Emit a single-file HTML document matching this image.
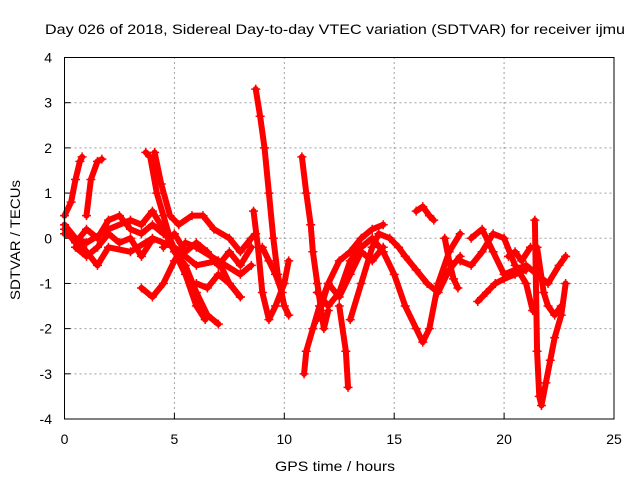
<!DOCTYPE html>
<html><head><meta charset="utf-8"><style>
body{margin:0;background:#fff;}
svg{display:block;font-family:"Liberation Sans",sans-serif;}
</style></head><body>
<svg id="chart" width="640" height="480" viewBox="0 0 640 480">
<text x="45" y="34" font-size="14" textLength="580" lengthAdjust="spacingAndGlyphs">Day 026 of 2018, Sidereal Day-to-day VTEC variation (SDTVAR) for receiver ijmu</text>
<text x="275" y="471" font-size="14" textLength="120" lengthAdjust="spacingAndGlyphs">GPS time / hours</text>
<text transform="translate(20,300) rotate(-90)" font-size="14" textLength="120" lengthAdjust="spacingAndGlyphs">SDTVAR / TECUs</text>
<g id="grid"></g><g id="ticks"></g><g id="series"></g>
<rect x="64.5" y="57.5" width="549.5" height="361.5" fill="none" stroke="#000" stroke-width="1"/>
</svg>
<script>
const xTicks=[0,5,10,15,20,25];
const yTicks=[-4,-3,-2,-1,0,1,2,3,4];
const t1=[[0,0.5],[0.3,0.8],[0.5,1.3],[0.7,1.7],[0.8,1.8]];
const t2=[[1.0,0.5],[1.2,1.3],[1.5,1.7],[1.7,1.75]];
const t3=[[0,0.1],[1,-0.1],[2,0.2],[3,0.4],[3.5,0.3],[4,0.6],[4.5,0.2],[5,-0.3],[5.5,-0.6],[6,-1.2],[6.5,-1.7],[7,-1.9]];
const t4=[[3.7,1.9],[3.9,1.8],[4.2,1.0],[4.5,0.5],[4.8,0.0],[5.2,-0.5],[5.5,-0.8],[6,-1.5],[6.4,-1.8]];
const t5=[[4.1,1.9],[4.4,1.2],[4.8,0.5],[5.2,0.3],[5.8,0.5],[6.3,0.5],[6.8,0.2],[7.5,0],[8,-0.3],[8.5,0.0],[8.7,0.1]];
const t6=[[3.5,-1.1],[4,-1.3],[4.5,-1.0],[5,-0.5],[5.5,-0.1],[6,-0.2],[7,-0.5],[7.5,-1.0],[8,-1.3]];
const t7=[[0,0.3],[1,-0.3],[1.5,-0.6],[2,-0.2],[3,-0.3],[4,0.0],[5,-0.2],[6,-0.6],[7,-0.5],[8,-0.8],[8.5,-0.6]];
const t8=[[8.7,3.3],[8.9,2.7],[9.1,2.0],[9.3,1.0],[9.5,0.0],[9.7,-0.8],[10,-1.5],[10.2,-1.7]];
const t9=[[8.6,0.6],[8.8,-0.2],[9,-1.2],[9.3,-1.8],[9.6,-1.5],[10,-1.0],[10.2,-0.5]];
const t10=[[10.8,1.8],[11,1.0],[11.2,0.3],[11.3,-0.3],[11.5,-1.0],[11.8,-2.0],[12,-1.6]];
const t11=[[10.9,-3.0],[11,-2.5],[11.3,-2.0],[11.6,-1.5],[12,-1.0],[12.5,-0.5],[13,-0.3],[13.5,0],[14,0.2],[14.5,0.3]];
const t12=[[12.5,-1.5],[12.8,-2.5],[12.9,-3.3]];
const t13=[[11.5,-1.2],[12,-1.5],[12.5,-1.2],[13,-0.5],[13.5,-0.2],[14,0.0],[14.5,-0.3],[15,-0.8],[15.5,-1.5],[16,-2.0],[16.3,-2.3],[16.6,-2.0],[17,-1.0],[17.5,-0.3],[18,0.1]];
const t14=[[13,-1.8],[13.5,-1.0],[14,-0.2],[14.3,0.1],[14.8,0.0],[15.2,-0.2],[15.5,-0.4],[16,-0.7],[16.5,-1.0],[17,-1.2],[17.5,-0.7],[18,-0.4]];
const t15=[[16,0.6],[16.3,0.7],[16.6,0.5],[16.8,0.4]];
const t16=[[18,-0.5],[18.5,-0.6],[19,-0.3],[19.5,0.1],[20,0.0],[20.5,-0.6],[21,-1.0],[21.3,-1.6]];
const t17=[[18.5,0.0],[19,0.2],[19.5,-0.3],[20,-0.8],[20.5,-0.7],[21,-0.6],[21.5,-0.8],[22,-1.0],[22.5,-0.6],[22.8,-0.4]];
const t18=[[21.4,0.4],[21.5,-2.5],[21.6,-3.5],[21.7,-3.7],[21.9,-3.2],[22.1,-2.7],[22.3,-2.2],[22.6,-1.7],[22.8,-1.0]];
const t19=[[18.8,-1.4],[19.2,-1.2],[19.6,-1.0],[20,-0.9],[20.5,-0.8],[21,-0.7]];
const t20=[[21.5,-0.2],[21.8,-1.2],[22,-1.5],[22.3,-1.7],[22.6,-1.5]];
const t21=[[0,0.2],[0.5,-0.1],[1,0.2],[1.5,0.0],[2,0.4],[2.5,0.5],[3,0.2],[3.5,0.1],[4,0.3],[4.5,0.1]];
const t22=[[0.5,-0.2],[1,-0.4],[1.5,-0.2],[2,0.1],[2.5,-0.1],[3,0.0],[3.5,-0.4],[3.9,-0.1]];
const t23=[[4.5,-0.2],[5,0.1],[5.5,-0.3],[6,-0.1],[6.5,-0.3],[7,-0.6],[7.5,-0.3],[8,-0.6],[8.5,-0.2]];
const t24=[[9,-0.2],[9.3,-0.5],[9.6,-0.8],[9.9,-1.2]];
const t25=[[6,-1.0],[6.5,-1.1],[7,-0.8],[7.5,-1.0],[8,-1.3]];
const t26=[[11.5,-1.8],[12,-1.0],[12.5,-1.3],[13,-0.8],[13.5,-0.3],[14,-0.5],[14.5,-0.2]];
const t27=[[17.3,0.0],[17.5,-0.5],[17.7,-0.9],[17.9,-1.1]];
const t28=[[20.2,-0.4],[20.5,-0.3],[20.8,-0.5],[21.2,-0.2]];
const tracks=[t1,t2,t3,t4,t5,t6,t7,t8,t9,t10,t11,t12,t13,t14,t15,t16,t17,t18,t19,t20,t21,t22,t23,t24,t25,t26,t27,t28];

const NS="http://www.w3.org/2000/svg";
const X0=64.5,X1=614,Y0=419,Y1=57.5;
function xs(v){return X0+(v-0)/(25-0)*(X1-X0);}
function ys(v){return Y0-(v+4)/8*(Y0-Y1);}
const grid=document.getElementById('grid'),ticks=document.getElementById('ticks'),ser=document.getElementById('series');
function mk(tag,attrs,parent){const e=document.createElementNS(NS,tag);for(const k in attrs)e.setAttribute(k,attrs[k]);parent.appendChild(e);return e;}
xTicks.forEach(v=>{
  const x=xs(v);
  if(v>0&&v<25){const g=mk('line',{x1:x,x2:x,y1:Y0,y2:Y1,stroke:'#a0a0a0','stroke-dasharray':'2,3'},grid);
  
  }
  const tl=mk('line',{x1:x,x2:x,y1:Y0,y2:Y0-6,stroke:'#000'},ticks);
  
  
  const t=mk('text',{x:x,y:444,'font-size':14,'text-anchor':'middle'},ticks);t.textContent=v;
  
  
});
yTicks.forEach(v=>{
  const y=ys(v);
  if(v>-4&&v<4){const g=mk('line',{x1:X0,x2:X1,y1:y,y2:y,stroke:'#a0a0a0','stroke-dasharray':'2,3'},grid);
  
  }
  const tl=mk('line',{x1:X0,x2:X0+6,y1:y,y2:y,stroke:'#000'},ticks);
  
  
  const t=mk('text',{x:52,y:y+5,'font-size':14,'text-anchor':'end'},ticks);t.textContent=v;
  
  
});
tracks.forEach((tr,i)=>{
  const pl=mk('polyline',{points:tr.map(p=>xs(p[0])+','+ys(p[1])).join(' '),fill:'none',stroke:'#f00','stroke-width':6,'stroke-linejoin':'round','stroke-linecap':'round'},ser);
  
  
  tr.forEach(p=>{
    const x=xs(p[0]),y=ys(p[1]);
    const m=mk('path',{d:`M${x-4.5},${y}H${x+4.5}M${x},${y-4.5}V${y+4.5}`,stroke:'#f00','stroke-width':1.5},ser);
    
    
  });
});
</script>
</body></html>
